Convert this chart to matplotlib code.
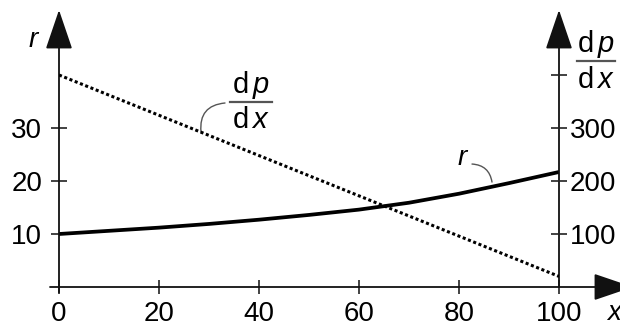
import matplotlib
matplotlib.use("Agg")
import matplotlib.pyplot as plt

plt.rcParams["font.family"] = ["Liberation Sans", "DejaVu Sans"]
plt.rcParams["mathtext.fontset"] = "custom"
plt.rcParams["mathtext.rm"] = "Liberation Sans"
plt.rcParams["mathtext.it"] = "Liberation Sans:italic"

# data
x_vals = [0, 10, 20, 30, 40, 50, 60, 70, 80, 90, 100]
r_vals = [10, 10.6, 11.2, 11.9, 12.7, 13.6, 14.6, 15.9, 17.6, 19.6, 21.7]
dpdx_x = [0, 100]
dpdx_vals = [400, 20]

x_ticks = [0, 20, 40, 60, 80, 100]
r_ticks = [10, 20, 30]
dpdx_ticks = [100, 200, 300, 400]
dpdx_ticklabels = ["100", "200", "300", ""]

FS = 20
W, H = 620, 327

fig = plt.figure(figsize=(6.2, 3.27), dpi=100)
fig.patch.set_facecolor("white")

# axes box: x 0..100 -> px 59..559, y 0 at px 287, top at px 45
ax = fig.add_axes([59 / W, 40 / H, 500 / W, 242 / H])
ytop = 242 / 5.3
ax.set_xlim(0, 100)
ax.set_ylim(0, ytop)
ax2 = ax.twinx()
ax2.set_ylim(0, ytop * 10)

for a in (ax, ax2):
    for s in a.spines.values():
        s.set_visible(False)
    a.patch.set_visible(False)

ax.plot(x_vals, r_vals, color="black", lw=2.7, solid_capstyle="butt")
ax2.plot(dpdx_x, dpdx_vals, color="black", lw=2.2, linestyle=(0, (1, 0.85)))

# ticks
ax.set_xticks(x_ticks)
ax.set_yticks(r_ticks)
ax2.set_yticks(dpdx_ticks)
ax2.set_yticklabels(dpdx_ticklabels)
ax.tick_params(axis="x", direction="inout", length=10, width=1.2, pad=5,
               labelsize=FS, color="#222222")
ax.tick_params(axis="y", direction="inout", length=12, width=1.2, pad=6,
               labelsize=FS, color="#222222")
ax2.tick_params(axis="y", direction="inout", length=12, width=1.2, pad=2,
                labelsize=FS, color="#222222")

# axis lines with arrow heads
arrow = dict(arrowstyle="-|>,head_length=0.5,head_width=0.17", color="#111111",
             lw=1.3, mutation_scale=50, shrinkA=0, shrinkB=0)
ax.annotate("", xy=(0, (287 - 10) / 5.3), xytext=(0, -1), arrowprops=arrow,
            annotation_clip=False)
ax.annotate("", xy=(100, (287 - 10) / 5.3), xytext=(100, 0), arrowprops=arrow,
            annotation_clip=False)
ax.annotate("", xy=(114.8, 0), xytext=(-1.8, 0), arrowprops=arrow,
            annotation_clip=False)

# axis labels
ax.text(-5.2, 46.6, "r", style="italic", fontsize=FS, ha="center", va="center",
        clip_on=False)
ax.text(109.6, -4.9, "x", style="italic", fontsize=FS, ha="left", va="center",
        clip_on=False)


def fraction(xc, y_num, y_bar, y_den, x0, x1, fs=21):
    # dp over dx, built from two texts and a bar
    ax.text(xc, y_num, r"d$\,p$", fontsize=fs, ha="center", va="baseline",
            clip_on=False)
    ax.text(xc, y_den, r"d$\,x$", fontsize=fs, ha="center", va="baseline",
            clip_on=False)
    ax.plot([x0, x1], [y_bar, y_bar], color="#555555", lw=1.6, clip_on=False)


# mid label and right axis label
fraction(38.4, (287 - 93) / 5.3, (287 - 102) / 5.3, (287 - 128) / 5.3, 34.2, 42.6)
fraction(107.4, (287 - 52) / 5.3, (287 - 61) / 5.3, (287 - 88) / 5.3, 103.6, 111.2)

# leaders
ax.annotate("", xy=(33.2, (287 - 103) / 5.3), xytext=(28.4, (287 - 132) / 5.3),
            arrowprops=dict(arrowstyle="-", color="#555555", lw=1.0,
                            shrinkA=0, shrinkB=0,
                            connectionstyle="arc3,rad=-0.5"))
ax.text(80.6, 24.3, "r", style="italic", fontsize=FS, ha="center", va="center")
ax.annotate("", xy=(86.6, 19.8), xytext=(82.6, 23.2),
            arrowprops=dict(arrowstyle="-", color="#555555", lw=1.0,
                            shrinkA=0, shrinkB=0,
                            connectionstyle="arc3,rad=-0.4"))

fig.savefig("out.png", dpi=100)
